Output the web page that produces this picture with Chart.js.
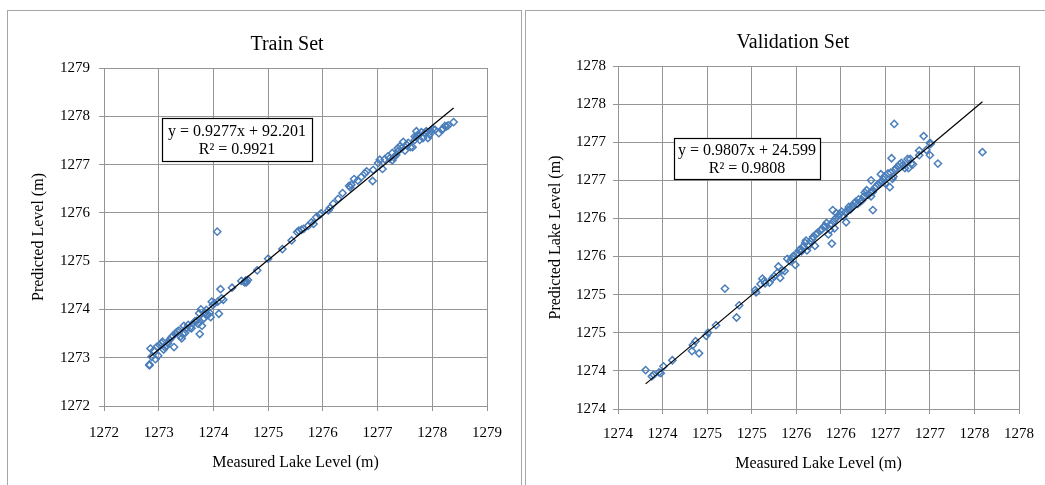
<!DOCTYPE html>
<html><head><meta charset="utf-8">
<script src="https://cdn.jsdelivr.net/npm/chart.js@4"></script>
<style>
html,body{margin:0;padding:0;background:#fff;width:1045px;height:485px;overflow:hidden;}
.box{position:absolute;border:1px solid #a6a6a6;box-sizing:border-box;}
#b1{left:7px;top:10px;width:515px;height:500px;}
#b2{left:525px;top:10px;width:540px;height:500px;}
canvas{position:absolute;top:0;}
#c1{left:0;width:521px;height:485px;}
#c2{left:521px;width:524px;height:485px;}
</style></head>
<body>
<div class="box" id="b1"></div><div class="box" id="b2"></div>
<canvas id="c1" width="521" height="485"></canvas>
<canvas id="c2" width="524" height="485"></canvas>
<script>
// ---------- DATA ----------
const trainMeasured = [1272.83,1272.83,1272.85,1272.87,1272.91,1272.94,1272.97,1272.99,1273.02,1273.05,
1273.07,1273.09,1273.11,1273.14,1273.17,1273.20,1273.23,1273.26,1273.28,1273.31,
1273.34,1273.37,1273.40,1273.42,1273.44,1273.46,1273.48,1273.51,1273.54,1273.57,
1273.60,1273.63,1273.66,1273.69,1273.72,1273.74,1273.75,1273.77,1273.79,1273.81,
1273.83,1273.85,1273.87,1273.90,1273.93,1273.95,1273.97,1273.99,1274.02,1274.07,
1274.08,1274.10,1274.13,1274.15,1274.18,1274.34,1274.51,1274.57,1274.59,1274.60,
1274.63,1274.80,1275.00,1275.26,1275.43,1275.53,1275.56,1275.61,1275.65,1275.73,
1275.79,1275.83,1275.88,1275.94,1275.97,1276.10,1276.13,1276.19,1276.28,1276.36,
1276.48,1276.50,1276.52,1276.57,1276.64,1276.70,1276.77,1276.80,1276.91,1276.92,
1277.01,1277.04,1277.09,1277.13,1277.19,1277.22,1277.27,1277.30,1277.34,1277.37,
1277.41,1277.44,1277.50,1277.53,1277.56,1277.60,1277.64,1277.68,1277.71,1277.74,
1277.77,1277.80,1277.83,1277.86,1277.89,1277.92,1277.95,1277.98,1278.01,1278.05,
1278.12,1278.17,1278.20,1278.23,1278.26,1278.29,1278.39,1277.71,1277.68,1277.47,
1277.37,1277.27];
const trainPredicted = [1272.84,1272.86,1273.19,1273.02,1273.15,1272.97,1273.23,1273.04,1273.26,1273.30,
1273.33,1273.17,1273.22,1273.24,1273.30,1273.37,1273.42,1273.45,1273.22,1273.51,
1273.54,1273.56,1273.44,1273.40,1273.49,1273.66,1273.51,1273.61,1273.68,1273.62,
1273.61,1273.71,1273.75,1273.76,1273.70,1273.92,1273.49,1274.00,1273.66,1273.80,
1273.82,1273.93,1273.99,1273.89,1273.93,1273.84,1274.16,1274.09,1274.13,1275.61,
1274.16,1273.91,1274.42,1274.23,1274.20,1274.45,1274.59,1274.56,1274.60,1274.56,
1274.61,1274.81,1275.05,1275.25,1275.43,1275.60,1275.63,1275.65,1275.67,1275.73,
1275.80,1275.77,1275.91,1275.96,1275.99,1276.05,1276.10,1276.19,1276.29,1276.41,
1276.56,1276.53,1276.58,1276.70,1276.67,1276.74,1276.82,1276.86,1276.66,1276.89,
1277.03,1277.10,1276.91,1277.11,1277.17,1277.13,1277.24,1277.15,1277.20,1277.34,
1277.38,1277.34,1277.29,1277.41,1277.45,1277.36,1277.36,1277.58,1277.57,1277.62,
1277.51,1277.67,1277.55,1277.65,1277.69,1277.55,1277.62,1277.69,1277.74,1277.72,
1277.65,1277.72,1277.74,1277.80,1277.79,1277.81,1277.88,1277.69,1277.51,1277.47,
1277.27,1277.09];
const trainTrendX = [1272.83, 1278.39];
const trainTrendY = [1273.01, 1278.17];
const trainEquation = ["y = 0.9277x + 92.201", "R² = 0.9921"];
const trainTickLabels = ["1272","1273","1274","1275","1276","1277","1278","1279"];

const valMeasured = [1273.81,1273.88,1273.90,1273.96,1273.98,1274.01,1274.11,1274.33,1274.34,1274.37,
1274.41,1274.49,1274.51,1274.60,1274.70,1274.83,1274.86,1275.04,1275.05,1275.10,
1275.12,1275.14,1275.15,1275.20,1275.23,1275.25,1275.29,1275.30,1275.32,1275.34,
1275.37,1275.40,1275.43,1275.45,1275.47,1275.49,1275.51,1275.53,1275.55,1275.56,
1275.58,1275.60,1275.61,1275.62,1275.64,1275.66,1275.68,1275.69,1275.71,1275.72,
1275.74,1275.77,1275.79,1275.81,1275.82,1275.84,1275.86,1275.88,1275.89,1275.90,
1275.91,1275.92,1275.93,1275.94,1275.95,1275.97,1275.99,1276.01,1276.03,1276.05,
1276.06,1276.08,1276.09,1276.11,1276.13,1276.15,1276.17,1276.19,1276.20,1276.22,
1276.24,1276.26,1276.27,1276.29,1276.31,1276.33,1276.34,1276.34,1276.36,1276.36,
1276.38,1276.40,1276.42,1276.44,1276.45,1276.46,1276.48,1276.49,1276.50,1276.53,
1276.55,1276.56,1276.57,1276.58,1276.59,1276.60,1276.61,1276.62,1276.64,1276.66,
1276.68,1276.70,1276.72,1276.75,1276.76,1276.78,1276.79,1276.81,1276.88,1276.88,
1276.93,1276.96,1277.00,1277.00,1277.01,1277.09,1277.59];
const valPredicted = [1274.01,1273.93,1273.95,1273.98,1273.97,1274.06,1274.14,1274.26,1274.34,1274.39,
1274.23,1274.46,1274.50,1274.60,1275.08,1274.70,1274.86,1275.06,1275.03,1275.14,
1275.21,1275.18,1275.15,1275.16,1275.21,1275.24,1275.29,1275.37,1275.22,1275.32,
1275.31,1275.47,1275.44,1275.48,1275.51,1275.39,1275.54,1275.58,1275.60,1275.57,
1275.63,1275.68,1275.71,1275.58,1275.64,1275.70,1275.73,1275.76,1275.64,1275.79,
1275.81,1275.84,1275.86,1275.89,1275.90,1275.94,1275.79,1275.85,1275.93,1275.67,
1276.11,1275.96,1275.87,1276.00,1276.07,1276.03,1276.06,1276.09,1276.03,1276.08,
1275.95,1276.11,1276.15,1276.12,1276.16,1276.20,1276.22,1276.19,1276.25,1276.22,
1276.24,1276.29,1276.34,1276.37,1276.31,1276.34,1276.50,1276.29,1276.11,1276.35,
1276.40,1276.42,1276.45,1276.47,1276.58,1276.48,1276.51,1276.55,1276.46,1276.59,
1276.41,1276.60,1276.79,1276.52,1276.55,1277.24,1276.64,1276.66,1276.68,1276.71,
1276.73,1276.70,1276.66,1276.78,1276.66,1276.78,1276.72,1276.71,1276.89,1276.83,
1277.08,1276.90,1276.99,1276.83,1276.98,1276.72,1276.87];
const valTrendX = [1273.81, 1277.59];
const valTrendY = [1273.83, 1277.53];
const valEquation = ["y = 0.9807x + 24.599", "R² = 0.9808"];
const valTickLabels = ["1274","1274","1275","1275","1276","1276","1277","1277","1278","1278"];

// ---------- RENDERING ----------
const SERIF = '"Liberation Serif", "Times New Roman", serif';
Chart.defaults.font.family = SERIF;
Chart.defaults.color = '#000';

const panelTitle = {
  id: 'panelTitle',
  afterDraw(chart, args, o) {
    const ctx = chart.ctx; ctx.save();
    ctx.font = '20px ' + SERIF; ctx.fillStyle = '#000';
    ctx.textAlign = 'center'; ctx.textBaseline = 'middle';
    ctx.fillText(o.text, o.x, o.y); ctx.restore();
  }
};
const eqBox = {
  id: 'eqBox',
  afterDatasetsDraw(chart, args, o) {
    const ctx = chart.ctx;
    const left = Math.round(chart.scales.x.getPixelForValue(o.anchor[0]));
    const top = Math.round(chart.scales.y.getPixelForValue(o.anchor[1]));
    ctx.save();
    ctx.font = '16px ' + SERIF;
    const tw = Math.max(...o.lines.map(l => ctx.measureText(l).width));
    const w = Math.round(tw + 2 * o.padX), h = o.height;
    ctx.fillStyle = '#fff'; ctx.fillRect(left, top, w, h);
    ctx.strokeStyle = '#000'; ctx.lineWidth = 1.2;
    ctx.strokeRect(left + 0.5, top + 0.5, w, h);
    ctx.fillStyle = '#000'; ctx.textAlign = 'center'; ctx.textBaseline = 'middle';
    ctx.fillText(o.lines[0], left + w / 2, top + h / 2 - 8);
    ctx.fillText(o.lines[1], left + w / 2, top + h / 2 + 10);
    ctx.restore();
  }
};

function toPoints(xs, ys) { return xs.map((x, i) => ({x: x, y: ys[i]})); }

function makeChart(id, cfg) {
  const grid = {color: '#959595', lineWidth: 1, tickLength: 5, tickColor: '#959595'};
  const border = {color: '#959595', width: 1};
  return new Chart(document.getElementById(id), {
    type: 'scatter',
    data: {datasets: [
      {data: toPoints(cfg.trendX, cfg.trendY), showLine: true, borderColor: '#000', borderWidth: 1.2,
       pointRadius: 0, fill: false},
      {data: toPoints(cfg.mx, cfg.my), pointStyle: 'rectRot', pointRadius: 3.6,
       borderColor: '#4a7ebb', backgroundColor: 'rgba(255,255,255,0)', pointBorderWidth: 1.5}
    ]},
    options: {
      responsive: false, animation: false, events: [],
      layout: {padding: {left: 0, top: cfg.padTop, right: cfg.padRight, bottom: 0}},
      plugins: {legend: {display: false}, tooltip: {enabled: false},
        panelTitle: cfg.title, eqBox: cfg.eq},
      scales: {
        x: {type: 'linear', min: cfg.min, max: cfg.max,
            ticks: {stepSize: cfg.step, font: {size: 15}, color: '#000', padding: cfg.xPad,
                    maxRotation: 0, autoSkip: false, callback: (v, i) => cfg.labels[i]},
            grid: grid, border: border,
            title: {display: true, text: 'Measured Lake Level (m)', font: {size: 16}, color: '#000',
                    padding: {top: 0, bottom: cfg.xTitleBottom}},
            afterFit: s => { s.height = cfg.xHeight; }},
        y: {type: 'linear', min: cfg.min, max: cfg.max,
            ticks: {stepSize: cfg.step, font: {size: 15}, color: '#000', padding: cfg.yPad,
                    autoSkip: false, callback: (v, i) => cfg.labels[i]},
            grid: grid, border: border,
            title: {display: true, text: cfg.yTitle, font: {size: 16}, color: '#000',
                    padding: {top: cfg.yTitleTop, bottom: 0}},
            afterFit: s => { s.width = cfg.yWidth; }}
      }
    },
    plugins: [panelTitle, eqBox]
  });
}

makeChart('c1', {
  trendX: trainTrendX, trendY: trainTrendY, mx: trainMeasured, my: trainPredicted,
  min: 1272, max: 1279, step: 1, labels: trainTickLabels,
  padTop: 68, padRight: 34, xHeight: 79, yWidth: 104, xPad: 13, yPad: 9,
  xTitleBottom: 13, yTitleTop: 29, yTitle: 'Predicted Level (m)',
  title: {text: 'Train Set', x: 287, y: 45},
  eq: {anchor: [1273.06, 1277.96], lines: trainEquation, padX: 6, height: 43}
});
makeChart('c2', {
  trendX: valTrendX, trendY: valTrendY, mx: valMeasured, my: valPredicted,
  min: 1273.5, max: 1278, step: 0.5, labels: valTickLabels,
  padTop: 66, padRight: 23, xHeight: 76, yWidth: 97, xPad: 11, yPad: 7,
  xTitleBottom: 12, yTitleTop: 25, yTitle: 'Predicted Lake Level (m)',
  title: {text: 'Validation Set', x: 272, y: 43},
  eq: {anchor: [1274.13, 1277.06], lines: valEquation, padX: 4, height: 41}
});
</script>
</body></html>
